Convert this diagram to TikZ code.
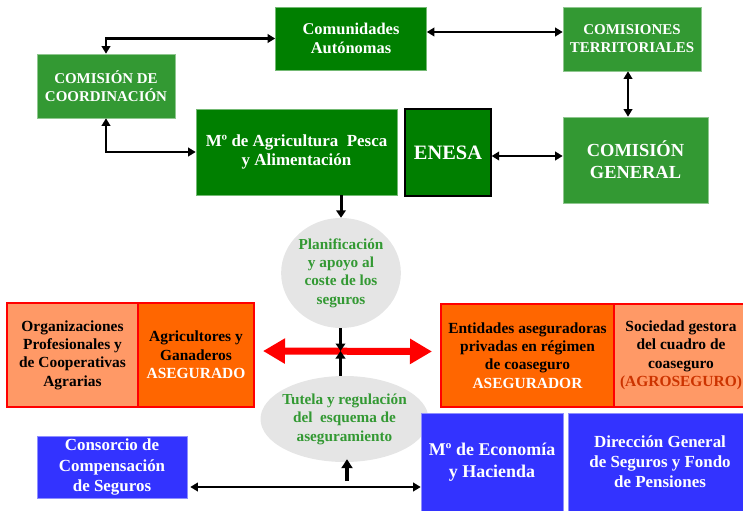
\documentclass[tikz,border=0pt]{standalone}
\usepackage{fontspec}
\setmainfont{Liberation Serif}
\usepackage{xcolor}
\usepackage{tikz}
\usetikzlibrary{arrows.meta, shapes.geometric}
\definecolor{verdeosc}{HTML}{007F00}
\definecolor{verdecla}{HTML}{339933}
\definecolor{naranja}{HTML}{FF6600}
\definecolor{salmon}{HTML}{FF9966}
\definecolor{rojo}{HTML}{FF0000}
\definecolor{teja}{HTML}{CC3300}
\definecolor{azul}{HTML}{3333FF}
\definecolor{gris}{HTML}{E5E5E5}
\newcommand{\cuerpo}[2]{\fontsize{#1}{#2}\selectfont\bfseries}

\begin{document}
\begin{tikzpicture}[
    x=1bp, y=-1bp,
    organo/.style={fill=#1, draw=#1!55!white, line width=0.6bp, text=white,
                   inner sep=0pt, align=center},
    agente/.style={fill=#1, draw=rojo, line width=2bp, text=black,
                   inner sep=0pt, align=center, font=\cuerpo{15.5}{18.5}},
    nube/.style={ellipse, fill=gris, text=verdecla, inner sep=0pt,
                 align=center, font=\cuerpo{15.3}{18.5}},
    doble/.style={<->, >={Triangle[length=7.5bp,width=8.5bp]}, line width=2.6bp},
    flecha/.style={->, >={Triangle[length=7.5bp,width=9.5bp]}, line width=3bp},
    cruce/.style={<->, >={Triangle[length=22bp,width=24bp]}, draw=rojo,
                  line width=7bp},
  ]
  \useasboundingbox (0,0) rectangle (743,511);
  \clip (0,0) rectangle (743,511);
  % consejo y comisiones
  \node[organo=verdeosc, minimum width=151bp, minimum height=63bp, font=\cuerpo{16.5}{19.5}] (comunidades) at (351,38.5) {Comunidades\\Autónomas};
  \node[organo=verdecla, minimum width=138bp, minimum height=64bp, font=\cuerpo{15}{18}] (comisiones) at (632,39) {COMISIONES\\TERRITORIALES};
  \node[organo=verdecla, minimum width=138bp, minimum height=64bp, font=\cuerpo{15}{18}] (coordinacion) at (106,86) {COMISIÓN DE\\COORDINACIÓN};
  \node[organo=verdeosc, minimum width=201bp, minimum height=86bp, font=\cuerpo{17}{19.5}] (agricultura) at (296.5,152) {Mº de Agricultura\ \ Pesca\\y Alimentación};
  \node[organo=verdeosc, draw=black, line width=1.2bp, minimum width=86bp, minimum height=87bp, font=\cuerpo{20.5}{24}] (enesa) at (448,152.5) {ENESA};
  \node[organo=verdecla, minimum width=145bp, minimum height=86bp, font=\cuerpo{18.5}{22}] (general) at (635.5,160) {COMISIÓN\\GENERAL};
  \draw[doble] (coordinacion.north) |- (comunidades.west);
  \draw[doble] (coordinacion.south) |- (agricultura.west);
  \draw[doble] ([yshift=6.5bp]comunidades.east) -- ([yshift=6.5bp]comunidades.east -| comisiones.west);
  \draw[doble] ([xshift=-4bp]comisiones.south) -- ([xshift=-4bp]comisiones.south |- general.north);
  \draw[doble] ([yshift=-3.5bp]enesa.east) -- ([yshift=-3.5bp]enesa.east -| general.west);
  % funciones
  \node[nube, minimum width=118bp, minimum height=110bp] (planificacion) at (341,273) {Planificación\\y apoyo al\\coste de los\\seguros};
  \node[nube, minimum width=168bp, minimum height=86bp, inner xsep=-7bp] (tutela) at (344.5,419) {Tutela y regulación\\del\ \ esquema de\\aseguramiento};
  \draw[flecha] (planificacion.north |- agricultura.south) -- (planificacion.north);
  % asegurado y asegurador
  \node[agente=salmon, minimum width=131bp, minimum height=104bp] (organizaciones) at (72.5,355) {Organizaciones\\Profesionales y\\de Cooperativas\\Agrarias};
  \node[agente=naranja, minimum width=116bp, minimum height=104bp] (agricultores) at (196,355) {Agricultores y\\Ganaderos\\\textcolor{white}{ASEGURADO}};
  \node[agente=naranja, minimum width=173bp, minimum height=103bp] (entidades) at (527.5,355.5) {Entidades aseguradoras\\privadas en régimen\\de coaseguro\\\textcolor{white}{ASEGURADOR}};
  \node[agente=salmon, minimum width=134bp, minimum height=103bp] (sociedad) at (681,355.5) {Sociedad gestora\\del cuadro de\\coaseguro\\\textcolor{teja}{(AGROSEGURO)}};
  \draw[cruce, shorten <=8bp, shorten >=8bp] ([yshift=4bp]agricultores.east) -- ([yshift=4bp]entidades.west);
  \coordinate (centro) at (340.5,351);
  \draw[flecha] (centro |- planificacion.south) -- (centro);
  \draw[flecha] (centro |- tutela.north) -- (centro);
  % hacienda
  \node[organo=azul, minimum width=150bp, minimum height=62bp, font=\cuerpo{17}{20.5}] (consorcio) at (112,467) {Consorcio de\\Compensación\\de Seguros};
  \node[organo=azul, minimum width=142bp, minimum height=98bp, font=\cuerpo{18}{22}] (economia) at (492,462) {Mº de Economía\\y Hacienda};
  \node[organo=azul, minimum width=184bp, minimum height=98bp, font=\cuerpo{17}{20}] (direccion) at (660,462) {Dirección General\\de Seguros y Fondo\\de Pensiones};
  \coordinate (base) at (347,481);
  \draw[flecha, line width=4bp, >={Triangle[length=9bp,width=11bp]}, shorten >=-3bp] (base) -- (base |- tutela.south);
  \draw[doble, line width=2bp, shorten >=3bp] ([yshift=-25bp]economia.west) -- ([yshift=-25bp]economia.west -| consorcio.east);
\end{tikzpicture}
\end{document}
